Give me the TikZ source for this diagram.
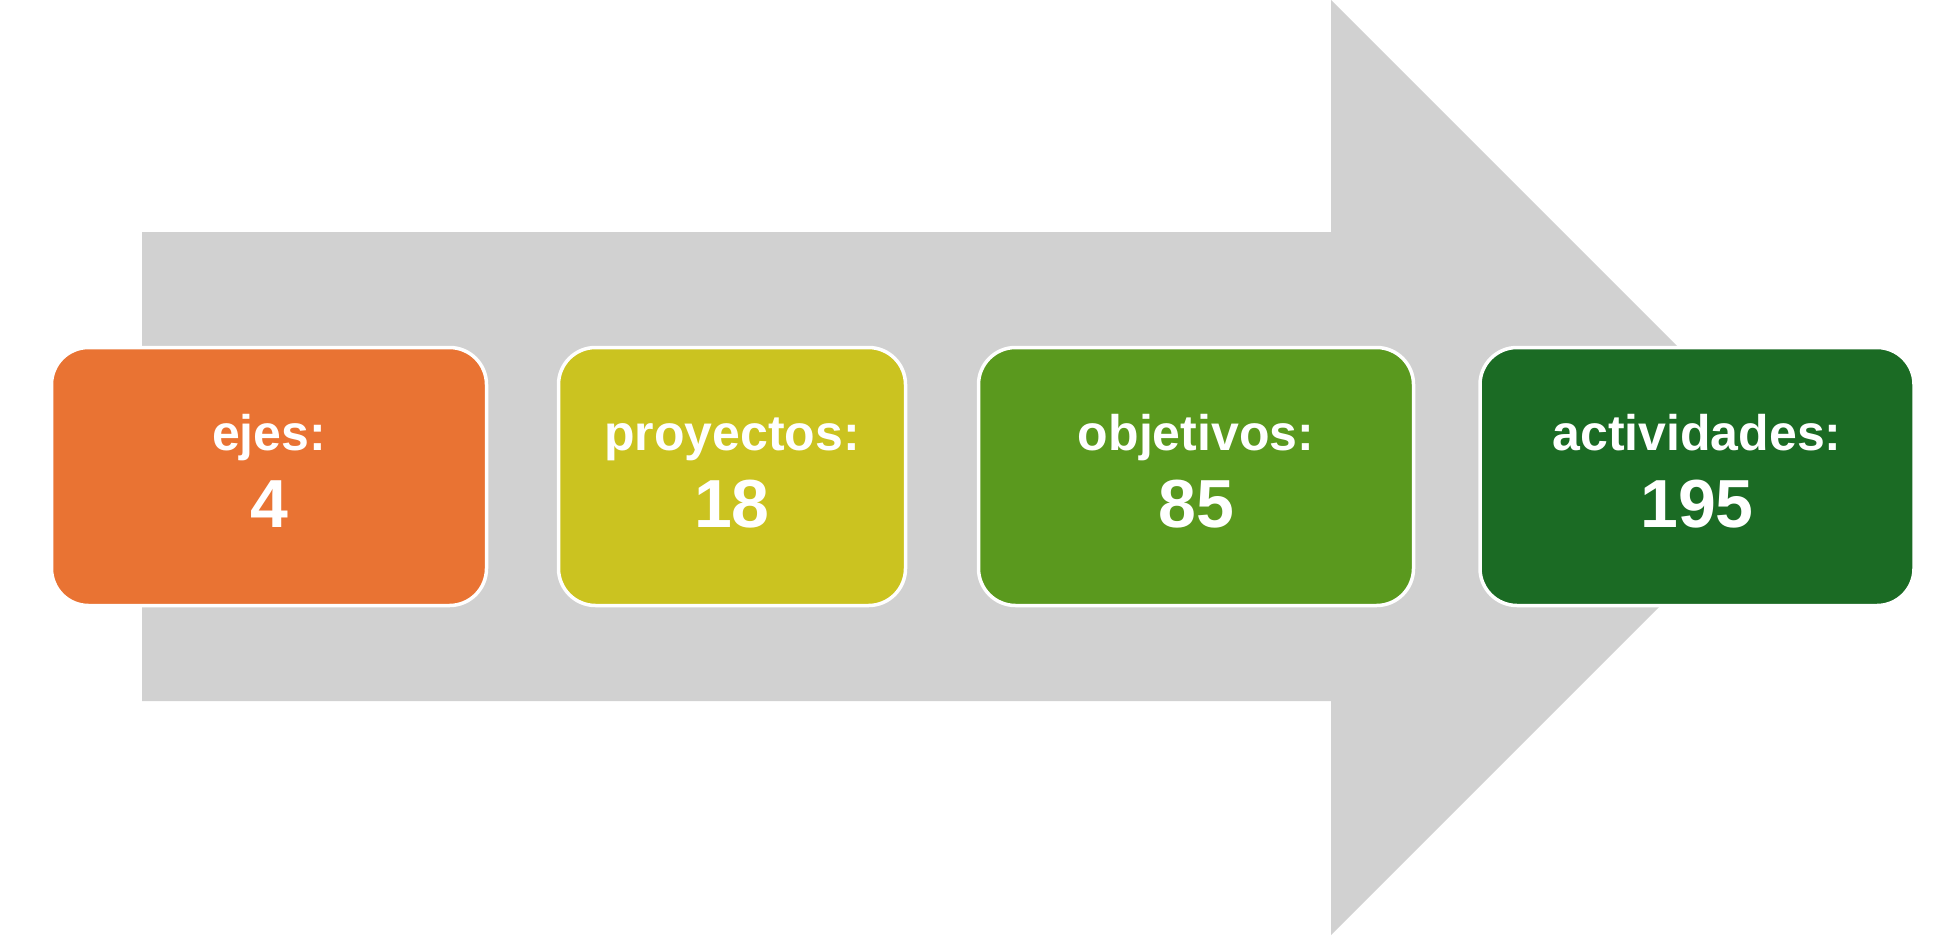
\documentclass[tikz,border=0pt]{standalone}
\usepackage{fontspec}
\setmainfont{Liberation Sans}
\definecolor{arrowgray}{HTML}{D1D1D1}
\definecolor{cOrange}{HTML}{E97333}
\definecolor{cYellow}{HTML}{CBC320}
\definecolor{cGreen}{HTML}{5A991E}
\definecolor{cDark}{HTML}{1B6B24}
\begin{document}
\begin{tikzpicture}[x=1pt,y=-1pt,
  box/.style={draw=white, line width=3.5pt, rounded corners=37pt, rectangle,
    minimum height=258pt, inner sep=0pt},
  lab/.style={text=white, anchor=base, inner sep=0pt, font=\bfseries\fontsize{50}{60}\selectfont},
  num/.style={text=white, anchor=base, inner sep=0pt, font=\bfseries\fontsize{68}{80}\selectfont}]
\useasboundingbox (0,0) rectangle (1949,935);
\fill[arrowgray] (142,232) -- (1331,232) -- (1331,0) -- (1798.5,467.5) -- (1331,935) -- (1331,701) -- (142,701) -- cycle;
\node[box, fill=cOrange, minimum width=435pt] (b1) at (269,476.5) {};
\node[box, fill=cYellow, minimum width=347pt] (b2) at (732,476.5) {};
\node[box, fill=cGreen, minimum width=435pt] (b3) at (1196,476.5) {};
\node[box, fill=cDark, minimum width=434pt] (b4) at (1697,476.5) {};
\node[lab] (l1) at (269,450) {ejes:};
\node[num] (n1) at (269,527) {4};
\node[lab] (l2) at (732,450) {proyectos:};
\node[num] (n2) at (732,527) {18};
\node[lab] (l3) at (1196,450) {objetivos:};
\node[num] (n3) at (1196,527) {85};
\node[lab] (l4) at (1697,450) {actividades:};
\node[num] (n4) at (1697,527) {195};
\end{tikzpicture}
\end{document}
